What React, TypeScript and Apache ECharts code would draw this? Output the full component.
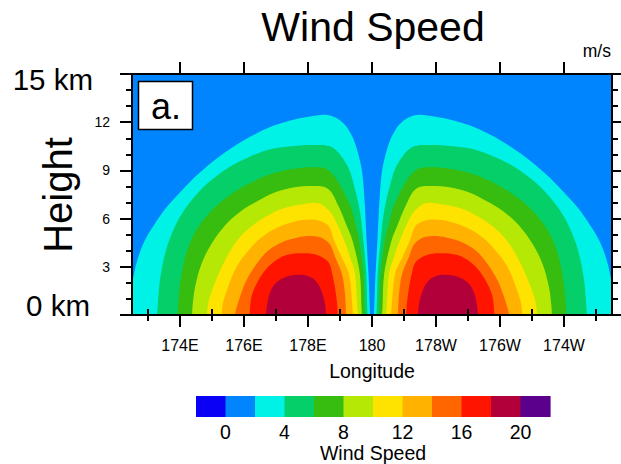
import { useEffect, useRef } from 'react';
import * as echarts from 'echarts';

// ---- axes / ticks ----
const lonMajorTicks = [174, 176, 178, 180, 182, 184, 186];
const lonMinorTicks = [173, 175, 177, 179, 181, 183, 185, 187];

// ---- colour scale (label bar) ----
const colorbarEdges = [-2, 0, 2, 4, 6, 8, 10, 12, 14, 16, 18, 20, 22];
const colorbarLabels = [0, 4, 8, 12, 16, 20];
const levelColors = ['#0a00f5', '#0085ff', '#00f2e6', '#05cf69', '#36bd10', '#b6e805', '#ffe300', '#ffb300', '#ff6600', '#ff1400', '#b1003a', '#5a008c'];

// ---- contour levels (m/s) ----
const contourLevels = [2, 4, 6, 8, 10, 12, 14, 16, 18];

// contour lines, western lobe: [longitude (deg, 0-360), height (km)]
const west2 = [[172.30, 0], [172.52, 2.13], [172.66, 3.38], [172.90, 4.63], [173.21, 5.66], [173.58, 6.70], [174.05, 7.74], [174.57, 8.78], [175.19, 9.81], [175.97, 10.85], [176.80, 11.68], [177.42, 12.09], [178.05, 12.35], [178.50, 12.47], [178.87, 12.28], [179.13, 11.89], [179.28, 11.48], [179.44, 10.85], [179.60, 9.81], [179.70, 8.78], [179.78, 6.70], [179.83, 4.63], [179.89, 2.55], [179.93, 0.48], [179.94, 0]];
const west4 = [[173.28, 0], [173.30, 0.48], [173.37, 2.13], [173.53, 3.80], [173.74, 5.04], [174.05, 6.29], [174.57, 7.63], [175.09, 8.57], [175.61, 9.29], [176.13, 9.81], [176.85, 10.33], [177.68, 10.54], [178.30, 10.58], [178.66, 10.52], [178.87, 10.27], [179.07, 9.81], [179.23, 9.29], [179.34, 8.78], [179.60, 6.70], [179.73, 4.63], [179.82, 2.55], [179.85, 0.48], [179.86, 0]];
const west6 = [[173.93, 0], [173.95, 0.89], [174.05, 2.55], [174.26, 4.21], [174.57, 5.46], [175.09, 6.70], [175.61, 7.53], [176.13, 8.15], [176.85, 8.77], [177.68, 9.13], [178.30, 9.19], [178.55, 9.10], [178.76, 8.78], [179.00, 8.10], [179.20, 7.30], [179.34, 6.70], [179.50, 5.50], [179.60, 4.63], [179.73, 2.55], [179.77, 0.48], [179.78, 0]];
const west8 = [[174.38, 0], [174.39, 0.48], [174.47, 1.72], [174.67, 3.17], [174.98, 4.42], [175.40, 5.56], [175.92, 6.49], [176.44, 7.11], [176.96, 7.63], [177.68, 7.98], [178.30, 8.03], [178.66, 7.80], [178.97, 6.70], [179.20, 5.60], [179.39, 4.63], [179.62, 2.55], [179.67, 0.48], [179.69, 0]];
const west10 = [[174.85, 0], [174.86, 0.48], [175.04, 1.72], [175.35, 3.17], [175.71, 4.42], [176.13, 5.35], [176.65, 6.08], [177.17, 6.60], [177.89, 6.91], [178.25, 6.99], [178.66, 6.49], [178.90, 5.70], [179.13, 4.63], [179.33, 3.50], [179.47, 2.55], [179.54, 0.48], [179.56, 0]];
const west12 = [[175.31, 0], [175.32, 0.48], [175.50, 1.72], [175.76, 2.97], [176.13, 4.00], [176.54, 4.83], [177.06, 5.46], [177.68, 5.87], [178.15, 5.95], [178.45, 5.80], [178.66, 5.50], [178.82, 4.63], [179.05, 3.60], [179.28, 2.55], [179.39, 0.48], [179.40, 0]];
const west14 = [[175.72, 0], [175.73, 0.17], [175.87, 1.10], [176.07, 2.13], [176.39, 3.17], [176.75, 4.00], [177.17, 4.52], [177.68, 4.83], [178.05, 4.92], [178.35, 4.85], [178.55, 4.65], [178.70, 4.35], [178.85, 3.60], [179.06, 2.55], [179.15, 1.40], [179.18, 0.48], [179.19, 0]];
const west16 = [[176.17, 0], [176.18, 0.17], [176.23, 1.10], [176.39, 1.93], [176.65, 2.76], [177.06, 3.48], [177.48, 3.80], [177.90, 3.84], [178.30, 3.72], [178.55, 3.45], [178.68, 3.15], [178.76, 2.55], [178.86, 1.50], [178.92, 0.48], [178.93, 0]];
const west18 = [[176.69, 0], [176.72, 0.60], [176.80, 1.31], [176.96, 1.93], [177.27, 2.34], [177.68, 2.50], [178.00, 2.42], [178.25, 2.10], [178.42, 1.50], [178.53, 0.70], [178.56, 0]];

// contour lines, eastern lobe
const east2 = [[180.06, 0], [180.07, 0.48], [180.11, 2.55], [180.17, 4.63], [180.22, 6.70], [180.30, 8.78], [180.40, 9.81], [180.56, 10.85], [180.72, 11.48], [180.87, 11.89], [181.13, 12.28], [181.50, 12.47], [181.95, 12.35], [182.58, 12.09], [183.20, 11.68], [184.03, 10.85], [184.81, 9.81], [185.43, 8.78], [185.95, 7.74], [186.42, 6.70], [186.79, 5.66], [187.10, 4.63], [187.34, 3.38], [187.48, 2.13], [187.70, 0]];
const east4 = [[180.14, 0], [180.15, 0.48], [180.18, 2.55], [180.27, 4.63], [180.40, 6.70], [180.66, 8.78], [180.77, 9.29], [180.93, 9.81], [181.13, 10.27], [181.34, 10.52], [181.70, 10.58], [182.32, 10.54], [183.15, 10.33], [183.87, 9.81], [184.39, 9.29], [184.91, 8.57], [185.43, 7.63], [185.95, 6.29], [186.26, 5.04], [186.47, 3.80], [186.63, 2.13], [186.70, 0.48], [186.72, 0]];
const east6 = [[180.22, 0], [180.23, 0.48], [180.27, 2.55], [180.40, 4.63], [180.50, 5.50], [180.66, 6.70], [180.80, 7.30], [181.00, 8.10], [181.24, 8.78], [181.45, 9.10], [181.70, 9.19], [182.32, 9.13], [183.15, 8.77], [183.87, 8.15], [184.39, 7.53], [184.91, 6.70], [185.43, 5.46], [185.74, 4.21], [185.95, 2.55], [186.05, 0.89], [186.07, 0]];
const east8 = [[180.31, 0], [180.33, 0.48], [180.38, 2.55], [180.61, 4.63], [180.80, 5.60], [181.03, 6.70], [181.34, 7.80], [181.70, 8.03], [182.32, 7.98], [183.04, 7.63], [183.56, 7.11], [184.08, 6.49], [184.60, 5.56], [185.02, 4.42], [185.33, 3.17], [185.53, 1.72], [185.61, 0.48], [185.62, 0]];
const east10 = [[180.44, 0], [180.46, 0.48], [180.53, 2.55], [180.67, 3.50], [180.87, 4.63], [181.10, 5.70], [181.34, 6.49], [181.75, 6.99], [182.11, 6.91], [182.83, 6.60], [183.35, 6.08], [183.87, 5.35], [184.29, 4.42], [184.65, 3.17], [184.96, 1.72], [185.14, 0.48], [185.15, 0]];
const east12 = [[180.60, 0], [180.61, 0.48], [180.72, 2.55], [180.95, 3.60], [181.18, 4.63], [181.34, 5.50], [181.55, 5.80], [181.85, 5.95], [182.32, 5.87], [182.94, 5.46], [183.46, 4.83], [183.87, 4.00], [184.24, 2.97], [184.50, 1.72], [184.68, 0.48], [184.69, 0]];
const east14 = [[180.81, 0], [180.82, 0.48], [180.85, 1.40], [180.94, 2.55], [181.15, 3.60], [181.30, 4.35], [181.45, 4.65], [181.65, 4.85], [181.95, 4.92], [182.32, 4.83], [182.83, 4.52], [183.25, 4.00], [183.61, 3.17], [183.93, 2.13], [184.13, 1.10], [184.27, 0.17], [184.28, 0]];
const east16 = [[181.07, 0], [181.08, 0.48], [181.14, 1.50], [181.24, 2.55], [181.32, 3.15], [181.45, 3.45], [181.70, 3.72], [182.10, 3.84], [182.52, 3.80], [182.94, 3.48], [183.35, 2.76], [183.61, 1.93], [183.77, 1.10], [183.82, 0.17], [183.83, 0]];
const east18 = [[181.44, 0], [181.47, 0.70], [181.58, 1.50], [181.75, 2.10], [182.00, 2.42], [182.32, 2.50], [182.73, 2.34], [183.04, 1.93], [183.20, 1.31], [183.28, 0.60], [183.31, 0]];

const westLobe = [west2, west4, west6, west8, west10, west12, west14, west16, west18];
const eastLobe = [east2, east4, east6, east8, east10, east12, east14, east16, east18];

const FONT = '"Liberation Sans", Arial, Helvetica, sans-serif';

const lonLabel = (v: number) => (v < 180 ? `${v}E` : v === 180 ? '180' : `${360 - v}W`);

export default function App() {
  const ref = useRef<HTMLDivElement>(null);

  useEffect(() => {
    if (!ref.current) return;
    const chart = echarts.init(ref.current, undefined, { renderer: 'svg' });

    const contourSeries: any[] = [];
    contourLevels.forEach((lvl, i) => {
      [westLobe[i], eastLobe[i]].forEach((pts) => {
        contourSeries.push({
          type: 'line',
          xAxisIndex: 0,
          yAxisIndex: 0,
          data: pts,
          smooth: 0.35,
          symbol: 'none',
          showSymbol: false,
          lineStyle: { width: 0 },
          areaStyle: { color: levelColors[lvl / 2 + 1], opacity: 1 },
          silent: true,
          clip: true,
          z: 2,
        });
      });
    });

    const frameLine = { onZero: false, lineStyle: { color: '#000', width: 2 } };
    const majorTick = { length: 12, lineStyle: { color: '#000', width: 2 } };
    const minorTickStyle = { length: 6, lineStyle: { color: '#000', width: 2 } };

    const option: any = {
      animation: false,
      textStyle: { fontFamily: FONT },
      grid: [
        { left: 132, top: 74, width: 480, height: 241, show: true, backgroundColor: levelColors[1], borderWidth: 0 },
        { left: 196, top: 396, width: 354, height: 22 },
      ],
      xAxis: [
        {
          gridIndex: 0, type: 'value', min: 172.5, max: 187.5, position: 'bottom', z: 10,
          axisLine: frameLine,
          axisTick: { ...majorTick, customValues: lonMajorTicks },
          axisLabel: { customValues: lonMajorTicks, formatter: lonLabel, fontSize: 16, color: '#000', margin: 22 },
          splitLine: { show: false },
          name: 'Longitude', nameLocation: 'middle', nameGap: 46,
          nameTextStyle: { fontSize: 19.5, color: '#000' },
        },
        {
          gridIndex: 0, type: 'value', min: 172.5, max: 187.5, position: 'top', z: 10,
          axisLine: frameLine,
          axisTick: { ...majorTick, customValues: lonMajorTicks },
          axisLabel: { show: false },
          splitLine: { show: false },
        },
        {
          gridIndex: 0, type: 'value', min: 172.5, max: 187.5, position: 'bottom', z: 10,
          axisLine: { show: false },
          axisTick: { ...minorTickStyle, customValues: lonMinorTicks },
          axisLabel: { show: false },
          splitLine: { show: false },
        },
        {
          gridIndex: 0, type: 'value', min: 172.5, max: 187.5, position: 'top', z: 10,
          axisLine: { show: false },
          axisTick: { ...minorTickStyle, customValues: lonMinorTicks },
          axisLabel: { show: false },
          splitLine: { show: false },
        },
        {
          gridIndex: 1, type: 'value', min: -2, max: 22,
          axisLine: { show: false },
          axisTick: { show: false },
          axisLabel: { customValues: colorbarLabels, fontSize: 19.5, color: '#000', margin: 5 },
          splitLine: { show: false },
          name: 'Wind Speed', nameLocation: 'middle', nameGap: 26,
          nameTextStyle: { fontSize: 19.5, color: '#000' },
        },
      ],
      yAxis: [
        {
          gridIndex: 0, type: 'value', min: 0, max: 15, interval: 3, position: 'left', z: 10,
          axisLine: frameLine,
          axisTick: majorTick,
          minorTick: { show: true, splitNumber: 3, ...minorTickStyle },
          minorSplitLine: { show: false },
          axisLabel: {
            formatter: (v: number) => (v === 0 || v === 15 ? '' : String(v)),
            fontSize: 14, color: '#000', margin: 22,
          },
          splitLine: { show: false },
        },
        {
          gridIndex: 0, type: 'value', min: 0, max: 15, interval: 3, position: 'right', z: 10,
          axisLine: frameLine,
          axisTick: majorTick,
          minorTick: { show: true, splitNumber: 3, ...minorTickStyle },
          minorSplitLine: { show: false },
          axisLabel: { show: false },
          splitLine: { show: false },
        },
        { gridIndex: 1, type: 'value', min: 0, max: 1, show: false },
      ],
      graphic: [
        { type: 'text', x: 373, y: 27, z: 100, style: { text: 'Wind Speed', fill: '#000', font: `41px ${FONT}`, align: 'center', verticalAlign: 'middle' } },
        { type: 'text', x: 611, y: 51, z: 100, style: { text: 'm/s', fill: '#000', font: `17.5px ${FONT}`, align: 'right', verticalAlign: 'middle' } },
        { type: 'text', x: 58, y: 195, rotation: Math.PI / 2, z: 100, style: { text: 'Height', fill: '#000', font: `40px ${FONT}`, align: 'center', verticalAlign: 'middle' } },
        { type: 'text', x: 93, y: 79, z: 100, style: { text: '15 km', fill: '#000', font: `29.5px ${FONT}`, align: 'right', verticalAlign: 'middle' } },
        { type: 'text', x: 90, y: 305, z: 100, style: { text: '0 km', fill: '#000', font: `29.5px ${FONT}`, align: 'right', verticalAlign: 'middle' } },
        { type: 'rect', z: 100, shape: { x: 138.5, y: 81.5, width: 54, height: 48 }, style: { fill: '#fff', stroke: '#000', lineWidth: 1.5 } },
        { type: 'text', x: 166, y: 106, z: 101, style: { text: 'a.', fill: '#000', font: `36px ${FONT}`, align: 'center', verticalAlign: 'middle' } },
      ],
      series: [
        ...contourSeries,
        {
          type: 'custom',
          xAxisIndex: 4,
          yAxisIndex: 2,
          silent: true,
          encode: { x: [0, 1] },
          data: levelColors.map((c, i) => [colorbarEdges[i], colorbarEdges[i + 1], i]),
          renderItem: (params: any, api: any) => {
            const p0 = api.coord([api.value(0), 1]);
            const p1 = api.coord([api.value(1), 0]);
            return {
              type: 'rect',
              shape: { x: p0[0], y: p0[1], width: p1[0] - p0[0] + 0.6, height: p1[1] - p0[1] },
              style: { fill: levelColors[api.value(2)] },
            };
          },
        },
      ],
    };

    chart.setOption(option);
    return () => chart.dispose();
  }, []);

  return <div ref={ref} style={{ position: 'absolute', left: 0, top: 0, width: 621, height: 464 }} />;
}
